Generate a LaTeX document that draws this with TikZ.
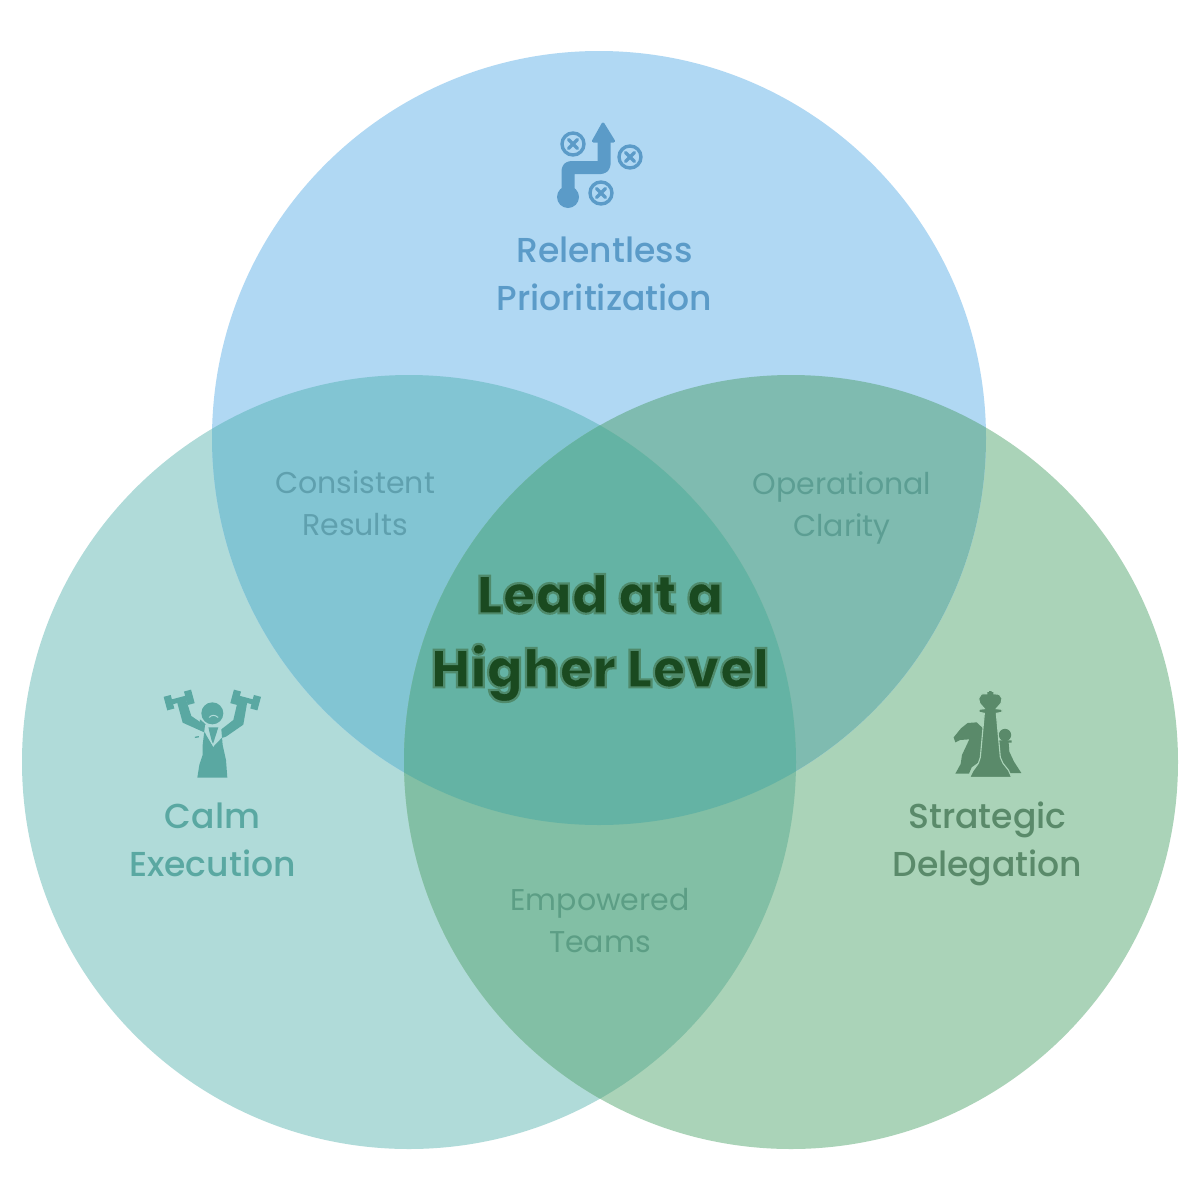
\documentclass[tikz,border=0pt]{standalone}
\usepackage{fontspec}
\setmainfont{Poppins}
\newfontfamily\medfont{Poppins Medium}
\newfontfamily\boldfont{Poppins ExtraBold}
\definecolor{cblue}{HTML}{B0D8F3}
\definecolor{cleft}{HTML}{B0DBD9}
\definecolor{cright}{HTML}{AAD3B8}
\definecolor{cbl}{HTML}{82C5D3}
\definecolor{cbr}{HTML}{7FBBB0}
\definecolor{clr}{HTML}{82BFA5}
\definecolor{cmid}{HTML}{64B3A4}
\definecolor{iblue}{HTML}{5B9BC8}
\definecolor{iteal}{HTML}{5AA8A2}
\definecolor{igreen}{HTML}{5A8A6A}
\definecolor{tbl}{HTML}{5FA0AE}
\definecolor{tbr}{HTML}{5C9E93}
\definecolor{tlr}{HTML}{5C9E85}
\definecolor{cdark}{HTML}{1A4A20}
\tikzset{
  mainlabel/.style={align=center,font=\medfont\fontsize{34.6}{48}\selectfont,inner sep=0pt},
  sublabel/.style={align=center,font=\fontsize{30}{42}\selectfont,inner sep=0pt},
  ring/.style={draw=iblue,line width=3.4pt,fill=none},
  cross/.style={draw=iblue,line width=3.2pt,line cap=round}
}
\newcommand{\clipblue}{\clip (599,438) circle[radius=387pt];}
\newcommand{\clipleft}{\clip (409,762) circle[radius=387pt];}
\begin{document}
\begin{tikzpicture}[x=1pt,y=-1pt]
\useasboundingbox (0,0) rectangle (1200,1200);
\fill[white] (0,0) rectangle (1200,1200);
% circles
\fill[cleft] (409,762) circle[radius=387pt];
\fill[cright] (791,762) circle[radius=387pt];
\fill[cblue] (599,438) circle[radius=387pt];
\begin{scope}\clipblue\fill[cbl] (409,762) circle[radius=387pt];\end{scope}
\begin{scope}\clipblue\fill[cbr] (791,762) circle[radius=387pt];\end{scope}
\begin{scope}\clipleft\fill[clr] (791,762) circle[radius=387pt];\end{scope}
\begin{scope}\clipblue\clipleft\fill[cmid] (791,762) circle[radius=387pt];\end{scope}
% top icon
\draw[iblue,line width=13pt,line join=round,rounded corners=3pt] (568,197) -- (568,167.5) -- (604,167.5) -- (604,138);
\fill[iblue,draw=iblue,line width=3pt,line join=round] (603,124) -- (613.5,141) -- (593.5,141) -- cycle;
\fill[iblue] (568,197) circle[radius=11pt];
\foreach \cx/\cy in {573/144,630/157,601/193}{
  \draw[ring] (\cx,\cy) circle[radius=11pt];
  \draw[cross] (\cx-4.5,\cy-4.5) -- (\cx+4.5,\cy+4.5) (\cx-4.5,\cy+4.5) -- (\cx+4.5,\cy-4.5);
}
% woman icon
\begin{scope}[shift={(150,680)},x=0.3333pt,y=-0.3333pt]
\fill[iteal] (187,100) circle[radius=11pt];
\fill[iteal] (142,293) -- (232,293) -- (228,240) -- (218,195) -- (214,148) -- (250,120) -- (264,60) -- (292,65) -- (280,134) -- (228,170) -- (215,174) -- (190,200) -- (170,168) -- (165,158) -- (98,128) -- (80,62) -- (107,55) -- (124,108) -- (165,136) -- (158,195) -- (158,225) -- (148,255) -- cycle;
\fill[iteal] (175,142) -- (205,142) -- (188,195) -- cycle;
\draw[cleft,line width=1.2pt] (172,140) -- (178,175) -- (190,197) -- (208,160) -- (212,142);
\fill[iteal] (150,118) -- (167,133) -- (160,140) -- (150,128) -- cycle;
\fill[iteal] (135,170) -- (147,168) -- (147,172) -- (135,174) -- cycle;
\draw[cleft,line width=1pt,line cap=round] (178,112) .. controls (185,104) and (195,104) .. (204,112);
\fill[iteal,rotate around={15:(57,68)}] (46,47) rectangle (68,89);
\fill[iteal,rotate around={15:(118,52)}] (107,31) rectangle (129,73);
\fill[iteal,rotate around={-15:(257,52)}] (246,31) rectangle (268,73);
\fill[iteal,rotate around={-15:(317,68)}] (306,47) rectangle (328,89);
\draw[iteal,line width=5pt] (57,68) -- (118,52) (257,52) -- (317,68);
\end{scope}
% chess icon
\begin{scope}[shift={(930,680)},x=0.3333pt,y=-0.3333pt]
% knight
\fill[igreen] (76,281) -- (92,252) -- (96,225) -- (118,178) -- (90,180) -- (76,187) -- (71,172) -- (93,145) -- (113,129) -- (140,127) -- (162,148) -- (162,235) -- (125,262) -- (117,281) -- cycle;
% pawn
\fill[igreen] (225,165) circle[radius=6.2pt];
\fill[igreen] (203,181) -- (245,181) -- (245,188) -- (236,188) -- (238,215) -- (252,245) -- (274,279) -- (235,279) -- (215,250) -- (200,190) -- cycle;
% king
\fill[igreen,draw=cright,line width=1.1pt] (119,292) -- (129,272) -- (145,250) -- (151,232) -- (163,100) -- (147,97) -- (147,88) -- (163,86) -- (149,70) -- (146,55) -- (154,42) -- (172,41) -- (174,38) -- (186,38) -- (190,41) -- (208,43) -- (216,55) -- (213,70) -- (199,86) -- (216,88) -- (216,97) -- (199,100) -- (211,232) -- (219,250) -- (235,270) -- (245,292) -- cycle;
\fill[igreen] (177,33) rectangle (185,46) (172,36) rectangle (190,42);
\end{scope}
% labels
\node[mainlabel,text=iblue] (top) at (604.5,274) {Relentless\\Prioritization};
\node[mainlabel,text=iteal] (left) at (212.5,840) {Calm\\Execution};
\node[mainlabel,text=igreen] (right) at (987.5,844) {Strategic\\Delegation};
\node[sublabel,text=tbl] (ab) at (355,503) {Consistent\\Results};
\node[sublabel,text=tbr] (bc) at (842,508) {Operational\\Clarity};
\node[sublabel,text=tlr] (ac) at (600,921) {Empowered\\Teams};
\node[align=center,inner sep=0pt,text=cdark,font=\boldfont\fontsize{53.3}{74}\selectfont] (mid) at (600,638)
 {\special{pdf:code 2 Tr 2.2 w 0.31 0.54 0.42 RG}Lead at a\\\special{pdf:code 2 Tr 2.2 w 0.31 0.54 0.42 RG}Higher Level\special{pdf:code 0 Tr}};
\end{tikzpicture}
\end{document}
